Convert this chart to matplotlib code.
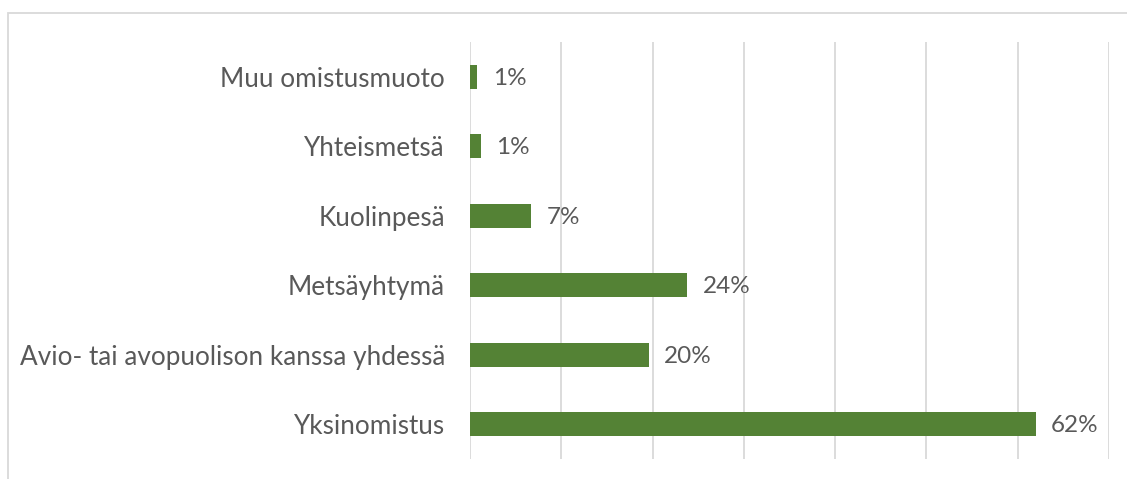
import numpy as np
import matplotlib.pyplot as plt
from matplotlib.patches import Rectangle

categories = ["Yksinomistus", "Avio- tai avopuolison kanssa yhdessä", "Metsäyhtymä",
              "Kuolinpesä", "Yhteismetsä", "Muu omistusmuoto"]
values = [62.0, 19.6, 23.8, 6.7, 1.2, 0.8]
labels = ["62%", "20%", "24%", "7%", "1%", "1%"]

plt.rcParams['font.family'] = ['Lato', 'DejaVu Sans']
txt = '#595959'

fig = plt.figure(figsize=(11.27, 4.79), dpi=100)
ax = fig.add_axes([470/1127, 1-459/479, (1109-470)/1127, (459-42)/479])

y = np.arange(len(categories))
ax.barh(y, values, height=0.35, color='#548235', zorder=3)
for yi, v, lab in zip(y, values, labels):
    ax.annotate(lab, (v, yi), xytext=(11, -1), textcoords='offset points',
                va='center', ha='left', fontsize=17.5, color=txt)

ax.set_xlim(0, 70)
ax.set_ylim(-0.5, 5.5)
ax.set_xticks(np.arange(0, 71, 10))
ax.set_xticklabels([])
ax.tick_params(axis='x', length=0)
ax.grid(axis='x', color='#d9d9d9', linewidth=1.3, zorder=0)
ax.set_yticks(y)
ax.set_yticklabels(categories, fontsize=18.8, color=txt)
ax.tick_params(axis='y', length=0, pad=18)
for s in ax.spines.values():
    s.set_visible(False)

# chart border
fig.patches.append(Rectangle((8/1127, -0.1), 1.2, (1-13/479) + 0.1, transform=fig.transFigure,
                             fill=False, edgecolor='#d9d9d9', linewidth=1.3))

fig.savefig('out.png', dpi=100)
